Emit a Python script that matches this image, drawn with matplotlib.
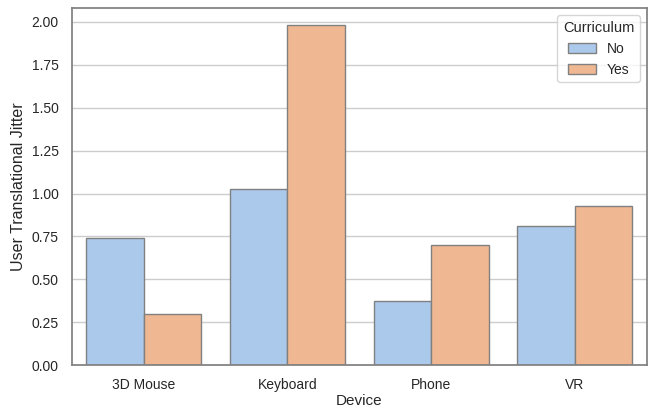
import pandas as pd
import seaborn as sns
import matplotlib.pyplot as plt

# data
devices = ["3D Mouse", "Keyboard", "Phone", "VR"]
jitter_no = [0.740, 1.024, 0.377, 0.814]
jitter_yes = [0.299, 1.984, 0.698, 0.926]

df = pd.DataFrame({
    "Device": devices * 2,
    "Curriculum": ["No"] * len(devices) + ["Yes"] * len(devices),
    "User Translational Jitter": jitter_no + jitter_yes,
})

sns.set_theme(style="whitegrid")
plt.rcParams["font.family"] = ["Liberation Sans", "DejaVu Sans"]
plt.rcParams["font.size"] = 10

fig, ax = plt.subplots(figsize=(6.48, 4.09), dpi=100)
sns.barplot(data=df, x="Device", y="User Translational Jitter", hue="Curriculum",
            palette="pastel", edgecolor=".5", errorbar=None, ax=ax)
ax.set_yticks([0, 0.25, 0.5, 0.75, 1.0, 1.25, 1.5, 1.75, 2.0])
ax.set_ylim(0, 2.08)
ax.tick_params(labelsize=10)
ax.set_xlabel("Device", fontsize=11, labelpad=1)
ax.set_ylabel("User Translational Jitter", fontsize=11.5, labelpad=4)
for s in ax.spines.values():
    s.set_edgecolor(".5")
ax.legend(title="Curriculum", loc="upper right", fontsize=10, title_fontsize=10.5)
fig.subplots_adjust(left=0.111, right=0.998, top=0.98, bottom=0.107)
fig.savefig("out.png", dpi=100)
